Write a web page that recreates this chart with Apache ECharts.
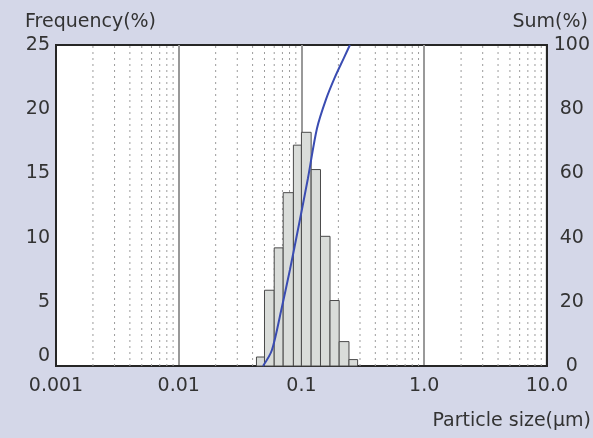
<!DOCTYPE html>
<html>
<head>
<meta charset="utf-8">
<script src="https://cdn.jsdelivr.net/npm/echarts@6/dist/echarts.min.js"></script>
<style>
html,body{margin:0;padding:0;background:#d4d7e8;}
#chart{width:593px;height:438px;}
</style>
</head>
<body>
<div id="chart"></div>
<script>
// ---- data ----
var binLower = [0.043, 0.050, 0.060, 0.071, 0.086, 0.100, 0.120, 0.143, 0.171, 0.203, 0.244];
var binUpper = [0.050, 0.060, 0.071, 0.086, 0.100, 0.120, 0.143, 0.171, 0.203, 0.244, 0.287];
var frequency = [0.7, 5.9, 9.2, 13.5, 17.2, 18.2, 15.3, 10.1, 5.1, 1.9, 0.5];
var cumSize = [0.0486, 0.0575, 0.0681, 0.0806, 0.0954, 0.1130, 0.1338, 0.1583, 0.1875, 0.2220, 0.2484];
var cumSum  = [0, 5, 17, 30, 44, 58.5, 74, 83, 90, 96, 100];
var xTickValues = [0.001, 0.01, 0.1, 1, 10];
var xTickLabels = ['0.001', '0.01', '0.1', '1.0', '10.0'];
var leftTicks = [0, 5, 10, 15, 20, 25];
var rightTicks = [0, 20, 40, 60, 80, 100];

// minor gridlines (2..9 in each decade)
var minorLines = [];
for (var d = 0; d < xTickValues.length - 1; d++) {
  for (var k = 2; k <= 9; k++) minorLines.push([k * xTickValues[d]]);
}

var FONT = 'DejaVu Sans';
var TXT = '#333';
var BORDER = { show: true, onZero: false, lineStyle: { color: '#262626', width: 2 } };

var histData = binLower.map(function (lo, i) { return [lo, binUpper[i], frequency[i]]; });
var cumData = cumSize.map(function (x, i) { return [x, cumSum[i]]; });

var chart = echarts.init(document.getElementById('chart'));
chart.setOption({
  backgroundColor: '#d4d7e8',
  animation: false,
  grid: {
    left: 56, right: 46, top: 45, bottom: 72,
    show: true, backgroundColor: '#ffffff', borderColor: '#262626', borderWidth: 2
  },
  xAxis: {
    type: 'log', logBase: 10, min: xTickValues[0], max: xTickValues[xTickValues.length - 1],
    axisLine: BORDER, axisTick: { show: false },
    splitLine: { show: true, lineStyle: { color: '#999999', width: 2 } },
    axisLabel: {
      margin: 11, fontSize: 19, fontFamily: FONT, color: TXT,
      formatter: function (v) {
        for (var i = 0; i < xTickValues.length; i++) {
          if (Math.abs(Math.log10(v) - Math.log10(xTickValues[i])) < 1e-6) return xTickLabels[i];
        }
        return '';
      }
    }
  },
  yAxis: [
    {
      type: 'value', min: leftTicks[0], max: leftTicks[leftTicks.length - 1], interval: 5,
      axisLine: BORDER, axisTick: { show: false }, splitLine: { show: false },
      axisLabel: { margin: 6, fontSize: 19, fontFamily: FONT, color: TXT, verticalAlignMinLabel: 'bottom' }
    },
    {
      type: 'value', position: 'right', min: rightTicks[0], max: rightTicks[rightTicks.length - 1], interval: 20,
      axisLine: BORDER, axisTick: { show: false }, splitLine: { show: false },
      axisLabel: { margin: 25, align: 'center', fontSize: 19, fontFamily: FONT, color: TXT }
    }
  ],
  series: [
    {
      type: 'custom', name: 'minor', yAxisIndex: 0, silent: true, z: 1,
      data: minorLines, encode: { x: 0 },
      renderItem: function (params, api) {
        var a = api.coord([api.value(0), 0]);
        var b = api.coord([api.value(0), 25]);
        return { type: 'line', shape: { x1: a[0], y1: a[1], x2: b[0], y2: b[1] },
          style: { stroke: '#9c9c9c', lineWidth: 1, lineDash: [2, 4] } };
      }
    },
    {
      type: 'custom', name: 'Frequency', yAxisIndex: 0, z: 3,
      data: histData, encode: { x: [0, 1], y: 2 },
      renderItem: function (params, api) {
        var p0 = api.coord([api.value(0), 0]);
        var p1 = api.coord([api.value(1), api.value(2)]);
        return { type: 'rect', shape: { x: p0[0], y: p1[1], width: p1[0] - p0[0], height: p0[1] - p1[1] },
          style: { fill: '#d9dcd9', stroke: '#4a4a4a', lineWidth: 1 } };
      }
    },
    {
      type: 'line', name: 'Sum', yAxisIndex: 1, z: 4,
      data: cumData, smooth: 0.3, showSymbol: false,
      lineStyle: { color: '#3a4cb2', width: 2 }
    }
  ],
  graphic: [
    { type: 'text', left: 25, top: 13, style: { text: 'Frequency(%)', font: '19px "DejaVu Sans"', fill: TXT } },
    { type: 'text', right: 5, top: 13, style: { text: 'Sum(%)', font: '19px "DejaVu Sans"', fill: TXT } },
    { type: 'text', right: 2, top: 412, style: { text: 'Particle size(μm)', font: '19px "DejaVu Sans"', fill: TXT } }
  ]
});
</script>
</body>
</html>
